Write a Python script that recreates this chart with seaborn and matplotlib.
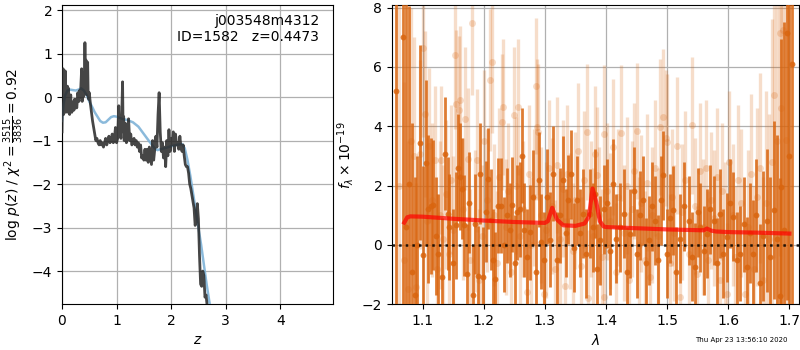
import numpy as np
import pandas as pd
import matplotlib
matplotlib.use("Agg")
import matplotlib.pyplot as plt
import seaborn as sns

# ---------------- left panel: log p(z) ----------------
z_chi = [0.00, 0.01, 0.02, 0.03, 0.04, 0.05, 0.06, 0.07, 0.08, 0.09,
         0.10, 0.11, 0.12, 0.13, 0.14, 0.15, 0.16, 0.17, 0.18, 0.19,
         0.20, 0.21, 0.22, 0.23, 0.24, 0.25, 0.26, 0.27, 0.28, 0.29,
         0.30, 0.31, 0.32, 0.33, 0.34, 0.35, 0.36, 0.37, 0.38, 0.39,
         0.40, 0.41, 0.42, 0.43, 0.44, 0.45, 0.46, 0.47, 0.48, 0.49,
         0.50, 0.52, 0.54, 0.56, 0.58, 0.60, 0.62, 0.64, 0.66, 0.68,
         0.70, 0.72, 0.74, 0.76, 0.78, 0.80, 0.82, 0.84, 0.86, 0.88,
         0.90, 0.92, 0.94, 0.96, 0.98, 1.00, 1.02, 1.04, 1.05, 1.06,
         1.08, 1.10, 1.11, 1.12, 1.13, 1.14, 1.16, 1.18, 1.20, 1.22,
         1.24, 1.26, 1.28, 1.30, 1.32, 1.34, 1.36, 1.38, 1.40, 1.42,
         1.44, 1.46, 1.48, 1.50, 1.52, 1.54, 1.56, 1.58, 1.60, 1.62,
         1.64, 1.66, 1.68, 1.70, 1.72, 1.74, 1.76, 1.78, 1.80, 1.82,
         1.84, 1.86, 1.88, 1.90, 1.92, 1.94, 1.96, 1.98, 2.00, 2.02,
         2.04, 2.06, 2.08, 2.10, 2.12, 2.14, 2.16, 2.18, 2.20, 2.22,
         2.24, 2.26, 2.28, 2.30, 2.32, 2.34, 2.36, 2.38, 2.40, 2.42,
         2.44, 2.46, 2.48, 2.50, 2.52, 2.54, 2.56, 2.58, 2.60, 2.62,
         2.64, 2.66, 2.70]
logp_chi = [-0.80, 0.20, 0.65, -0.40, 0.25, -0.30, 0.60, -0.35, -0.30, -0.20,
            0.25, -0.35, 0.20, -0.25, -0.40, -0.20, 0.05, -0.30, -0.35, -0.20,
            -0.30, -0.10, -0.30, -0.05, -0.20, -0.15, -0.05, -0.25, -0.10, 0.10,
            0.00, -0.10, 0.15, 0.00, 0.10, 0.40, 0.65, -0.10, 0.55, 0.00,
            0.30, 0.05, 1.25, 0.20, 0.85, 0.10, 0.05, 0.80, 0.00, -0.05,
            0.10, -0.15, -0.35, -0.55, -0.70, -0.85, -1.00, -0.95, -1.05, -1.10,
            -1.00, -1.10, -1.05, -1.15, -1.05, -0.95, -1.10, -1.00, -0.90, -1.05,
            -1.00, -0.85, -1.05, -0.95, -0.70, -1.05, -0.95, -0.20, -0.90, -0.60,
            -0.95, -0.15, 0.35, -0.80, -0.45, -1.00, -0.60, -1.05, -0.95, -0.50,
            -1.00, -0.85, -1.10, -1.05, -0.95, -1.10, -1.00, -1.15, -1.05, -1.25,
            -1.10, -1.40, -1.35, -1.45, -1.20, -1.45, -1.20, -1.50, -1.15, -1.35,
            -1.55, -1.00, -1.45, -1.20, -0.90, -1.15, -0.40, 0.10, -0.80, -1.25,
            -1.05, -1.40, -1.15, -1.60, -1.00, -1.35, -0.75, -1.25, -0.95, -1.10,
            -0.80, -1.25, -0.85, -1.10, -1.05, -1.20, -0.90, -1.15, -1.25, -1.10,
            -1.35, -1.55, -1.60, -1.60, -1.75, -2.00, -2.10, -2.25, -2.40, -2.55,
            -2.95, -2.85, -2.45, -2.80, -3.65, -4.30, -4.35, -4.00, -4.10, -4.60,
            -4.55, -4.80, -5.20]

z_pz = [0.00, 0.03, 0.06, 0.10, 0.15, 0.20, 0.25, 0.30, 0.35, 0.40,
        0.45, 0.50, 0.55, 0.60, 0.65, 0.70, 0.75, 0.80, 0.85, 0.90,
        0.95, 1.00, 1.10, 1.20, 1.30, 1.40, 1.50, 1.60, 1.70, 1.75,
        1.80, 1.90, 2.00, 2.10, 2.20, 2.25, 2.30, 2.35, 2.40, 2.45,
        2.50, 2.55, 2.60, 2.65, 2.70, 2.75]
logp_pz = [-0.55, -0.15, 0.05, 0.15, 0.17, 0.16, 0.15, 0.17, 0.20, 0.15,
           0.05, -0.10, -0.22, -0.35, -0.45, -0.55, -0.59, -0.58, -0.52, -0.46,
           -0.44, -0.45, -0.50, -0.53, -0.58, -0.68, -0.85, -1.02, -1.18, -1.22,
           -1.20, -1.17, -1.13, -1.10, -1.08, -1.18, -1.45, -1.80, -2.20, -2.60,
           -3.00, -3.40, -3.85, -4.30, -4.70, -5.05]

# ---------------- right panel: spectrum ----------------
wave_a = [1.056, 1.068, 1.073, 1.078, 1.083, 1.087, 1.091, 1.096, 1.101, 1.105,
          1.109, 1.113, 1.117, 1.122, 1.126, 1.131, 1.137, 1.141, 1.144, 1.149,
          1.154, 1.158, 1.161, 1.165, 1.168, 1.172, 1.176, 1.182, 1.186, 1.190,
          1.194, 1.199, 1.203, 1.207, 1.212, 1.216, 1.219, 1.224, 1.229, 1.234,
          1.238, 1.243, 1.247, 1.251, 1.255, 1.259, 1.262, 1.266, 1.271, 1.276,
          1.280, 1.285, 1.290, 1.294, 1.298, 1.303, 1.309, 1.314, 1.320, 1.325,
          1.330, 1.334, 1.338, 1.343, 1.347, 1.352, 1.357, 1.363, 1.368, 1.374,
          1.378, 1.382, 1.386, 1.390, 1.396, 1.401, 1.406, 1.412, 1.417, 1.423,
          1.429, 1.434, 1.440, 1.445, 1.450, 1.455, 1.461, 1.466, 1.471, 1.476,
          1.480, 1.485, 1.490, 1.494, 1.500, 1.505, 1.510, 1.515, 1.521, 1.527,
          1.535, 1.540, 1.546, 1.550, 1.554, 1.560, 1.565, 1.570, 1.576, 1.581,
          1.587, 1.592, 1.598, 1.603, 1.608, 1.614, 1.619, 1.625, 1.630, 1.636,
          1.641, 1.646, 1.652, 1.657, 1.663, 1.668, 1.674, 1.679, 1.684, 1.687,
          1.691, 1.696, 1.700, 1.704]
flux_a = [5.20, 7.00, 0.60, 2.05, -0.90, -1.70, 0.00, 3.45, -0.35, 2.75,
          1.20, 1.30, 1.35, 0.30, -0.30, -1.10, 3.07, 1.05, 0.60, -0.60,
          0.66, 2.60, 2.30, 1.90, 0.66, -1.00, 1.42, -1.70, 0.70, -1.05,
          2.40, -1.10, 1.12, 2.23, 0.85, -0.50, -1.15, 1.32, 1.32, 0.00,
          1.00, 0.50, 1.35, -0.60, 1.10, 1.20, 3.00, 0.50, -0.40, 0.43,
          1.60, -0.90, 2.20, 0.10, -0.50, 1.63, 0.17, 2.40, -0.50, 1.00,
          2.18, 0.40, 1.52, 2.38, -0.10, 1.50, 0.40, 1.05, -0.30, 1.05,
          0.60, 1.72, -0.80, 0.15, 1.20, 1.40, -0.20, 2.06, 0.20, 0.60,
          1.05, -0.90, 0.37, 1.80, -0.30, 1.00, 1.50, -0.60, 0.15, 1.30,
          0.82, -0.50, 1.50, 2.35, -0.30, 0.90, 1.16, -0.90, 0.20, 1.30,
          0.82, -0.40, -0.75, 1.10, 0.60, -0.20, 0.37, 1.20, 0.82, -0.60,
          1.05, -0.30, 0.26, 1.40, 0.94, -0.50, -0.30, 0.70, -0.75, 0.40,
          -0.30, 1.00, -1.30, 0.30, 0.82, -0.40, 1.16, 0.20, -1.74, 1.95,
          0.50, 7.15, 3.00, 6.10]
err_a = [10.0, 9.0, 8.0, 6.0, 5.0, 4.0, 3.0, 3.3, 3.0, 2.8,
         2.5, 2.3, 2.2, 2.0, 2.0, 2.0, 1.9, 1.9, 1.8, 1.8,
         1.8, 1.8, 1.8, 1.7, 1.7, 1.7, 1.7, 1.7, 1.7, 1.7,
         1.7, 1.7, 1.7, 1.7, 1.7, 1.7, 1.6, 1.6, 1.6, 1.6,
         1.6, 1.6, 1.6, 1.6, 1.6, 1.6, 1.6, 1.6, 1.6, 1.6,
         1.6, 1.6, 1.6, 1.6, 1.6, 1.6, 1.6, 1.6, 1.6, 1.6,
         1.5, 1.5, 1.5, 1.5, 1.5, 1.5, 1.5, 1.5, 1.5, 1.5,
         1.5, 1.5, 1.5, 1.5, 1.5, 1.5, 1.5, 1.5, 1.5, 1.5,
         1.5, 1.5, 1.5, 1.5, 1.5, 1.5, 1.5, 1.5, 1.5, 1.5,
         1.5, 1.5, 1.5, 1.5, 1.5, 1.5, 1.5, 1.5, 1.5, 1.5,
         1.5, 1.5, 1.5, 1.5, 1.5, 1.5, 1.5, 1.5, 1.5, 1.5,
         1.5, 1.5, 1.5, 1.5, 1.5, 1.6, 1.6, 1.6, 1.7, 1.7,
         1.8, 1.9, 2.0, 2.2, 2.4, 2.7, 3.0, 3.5, 4.0, 5.0,
         7.0, 9.0, 10.0, 10.0]

wave_b = [1.062, 1.070, 1.076, 1.081, 1.086, 1.090, 1.095, 1.100, 1.104, 1.108,
          1.110, 1.115, 1.120, 1.124, 1.128, 1.130, 1.134, 1.139, 1.143, 1.146,
          1.150, 1.153, 1.155, 1.159, 1.162, 1.166, 1.170, 1.174, 1.178, 1.181,
          1.185, 1.189, 1.193, 1.197, 1.200, 1.205, 1.210, 1.213, 1.217, 1.221,
          1.225, 1.230, 1.232, 1.236, 1.240, 1.245, 1.249, 1.253, 1.256, 1.260,
          1.265, 1.270, 1.274, 1.278, 1.282, 1.285, 1.287, 1.289, 1.293, 1.298,
          1.302, 1.306, 1.311, 1.316, 1.320, 1.325, 1.329, 1.333, 1.337, 1.341,
          1.346, 1.350, 1.355, 1.359, 1.364, 1.369, 1.370, 1.375, 1.379, 1.382,
          1.385, 1.389, 1.393, 1.396, 1.397, 1.401, 1.406, 1.412, 1.416, 1.420,
          1.425, 1.430, 1.434, 1.438, 1.442, 1.446, 1.450, 1.454, 1.458, 1.463,
          1.467, 1.472, 1.476, 1.480, 1.485, 1.489, 1.494, 1.498, 1.500, 1.504,
          1.508, 1.512, 1.516, 1.521, 1.525, 1.530, 1.535, 1.540, 1.545, 1.549,
          1.554, 1.559, 1.563, 1.567, 1.572, 1.577, 1.581, 1.586, 1.590, 1.594,
          1.598, 1.602, 1.607, 1.611, 1.616, 1.621, 1.627, 1.632, 1.637, 1.642,
          1.647, 1.652, 1.657, 1.662, 1.667, 1.671, 1.675, 1.680, 1.684, 1.687,
          1.689, 1.695]
flux_b = [2.00, -0.50, -1.50, 3.50, 3.00, -1.43, 3.05, 6.65, 4.40, 0.80,
          3.35, 1.50, 2.85, -0.80, 1.00, 2.85, 0.20, 1.70, -0.30, 2.20,
          0.50, 6.40, 4.76, 4.54, 4.87, 1.20, 4.26, 2.90, -0.50, 7.47,
          0.80, 2.85, -1.20, 0.30, 3.50, 1.50, 5.55, 6.17, 1.00, -0.60,
          2.30, 4.14, 4.65, 0.60, 1.80, -0.90, 4.37, 2.00, 4.65, 0.30,
          1.20, -1.60, 2.40, 0.00, 1.60, 5.35, 3.97, 3.80, 1.00, -1.65,
          0.50, 2.60, 1.30, -0.80, 2.70, 0.20, 1.90, -1.40, 2.40, 0.80,
          -0.20, 1.50, 3.15, -0.70, 2.20, 3.80, -1.80, 1.20, 0.30, 3.07,
          2.34, 1.00, -0.40, -1.77, 3.75, 1.80, 0.80, 3.30, -0.90, 1.60,
          3.77, 0.40, 2.00, -1.20, 1.20, 2.50, 3.83, 0.00, 1.40, -0.50,
          2.10, -1.10, 1.00, 2.60, 0.30, 3.97, 4.30, 3.60, 3.47, -0.60,
          1.60, 0.40, 3.35, -1.77, 1.10, 2.20, -0.30, 4.03, 1.30, -1.00,
          2.50, 0.60, 2.60, -0.50, 1.50, 0.90, 2.30, -1.20, 1.80, 0.40,
          -1.65, 2.80, 1.00, -0.40, 2.20, 1.40, -1.65, 0.60, 2.40, -0.80,
          1.60, 2.60, -1.20, 1.40, 0.20, 2.80, 5.07, 3.50, 7.13, 4.63,
          7.26, 3.52]
err_b = [8.0, 6.0, 5.0, 4.5, 4.0, 3.5, 3.2, 3.0, 2.8, 2.8,
         2.6, 2.6, 2.5, 2.5, 2.5, 2.5, 2.5, 2.5, 2.5, 2.5,
         2.5, 2.5, 2.5, 2.5, 2.5, 2.4, 2.4, 2.4, 2.4, 2.4,
         2.4, 2.4, 2.4, 2.4, 2.4, 2.4, 2.4, 2.4, 2.4, 2.4,
         2.3, 2.3, 2.3, 2.3, 2.3, 2.3, 2.3, 2.3, 2.3, 2.3,
         2.3, 2.3, 2.3, 2.3, 2.3, 2.3, 2.3, 2.3, 2.3, 2.3,
         2.3, 2.3, 2.3, 2.3, 2.3, 2.3, 2.3, 2.3, 2.3, 2.3,
         2.3, 2.3, 2.3, 2.3, 2.3, 2.3, 2.3, 2.3, 2.3, 2.3,
         2.3, 2.3, 2.3, 2.3, 2.3, 2.3, 2.3, 2.3, 2.3, 2.3,
         2.3, 2.3, 2.3, 2.3, 2.3, 2.3, 2.3, 2.3, 2.3, 2.3,
         2.3, 2.3, 2.3, 2.3, 2.3, 2.3, 2.3, 2.3, 2.3, 2.3,
         2.3, 2.3, 2.3, 2.3, 2.3, 2.3, 2.3, 2.3, 2.3, 2.3,
         2.3, 2.3, 2.3, 2.3, 2.3, 2.3, 2.3, 2.3, 2.3, 2.4,
         2.4, 2.4, 2.4, 2.4, 2.5, 2.5, 2.5, 2.6, 2.7, 2.8,
         3.0, 3.2, 3.5, 3.8, 4.2, 4.8, 5.5, 6.5, 7.5, 8.0,
         9.0, 9.0]

wave_model = [1.070, 1.075, 1.080, 1.100, 1.150, 1.200, 1.250, 1.300, 1.305, 1.312,
              1.320, 1.330, 1.350, 1.365, 1.372, 1.378, 1.384, 1.390, 1.396, 1.400,
              1.450, 1.500, 1.560, 1.565, 1.572, 1.580, 1.600, 1.650, 1.700]
flux_model = [0.75, 0.93, 0.96, 0.95, 0.88, 0.82, 0.77, 0.74, 0.80, 1.25,
              0.85, 0.66, 0.64, 0.72, 0.95, 1.90, 1.45, 0.80, 0.62, 0.60,
              0.56, 0.52, 0.49, 0.55, 0.48, 0.45, 0.43, 0.41, 0.38]

title_obj = "j003548m4312"
title_id = "ID=1582   z=0.4473"
stamp = "Thu Apr 23 13:56:10 2020"

# ---------------- figure ----------------
fig = plt.figure(figsize=(8, 3.5), dpi=100)
ax1 = fig.add_axes([0.0775, 0.131, 0.339, 0.854])
ax2 = fig.add_axes([0.490, 0.131, 0.509, 0.854])

df_chi = pd.DataFrame({"z": z_chi, "logp": logp_chi})
df_pz = pd.DataFrame({"z": z_pz, "logp": logp_pz})
sns.lineplot(data=df_pz, x="z", y="logp", ax=ax1, color="#7fb3d8", lw=1.8,
             alpha=0.9, zorder=3)
sns.lineplot(data=df_chi, x="z", y="logp", ax=ax1, color="0.15", lw=2.0,
             alpha=0.85, zorder=4)
ax1.set_xlim(0, 4.97)
ax1.set_ylim(-4.76, 2.11)
ax1.set_xticks([0, 1, 2, 3, 4])
ax1.set_yticks([-4, -3, -2, -1, 0, 1, 2])
ax1.grid(True, color="#b0b0b0", lw=0.9)
ax1.set_xlabel("$z$", fontsize=10)
ax1.set_ylabel(r"log $p(z)$ / $\chi^2=\frac{3515}{3836}=0.92$", fontsize=10)
ax1.text(0.948, 0.972, title_obj + "\n" + title_id, transform=ax1.transAxes,
         ha="right", va="top", fontsize=10)

orange = "#d9650f"
ax2.errorbar(wave_b, flux_b, yerr=err_b, fmt="o", color=orange, alpha=0.22,
             ms=5, elinewidth=2.4, capsize=0, mec="none", zorder=2)
ax2.errorbar(wave_a, flux_a, yerr=err_a, fmt="o", color=orange, alpha=0.85,
             ms=4.2, elinewidth=2.0, capsize=0, mec="none", zorder=3)
df_model = pd.DataFrame({"wave": wave_model, "flux": flux_model})
sns.lineplot(data=df_model, x="wave", y="flux", ax=ax2, color="red", lw=3,
             alpha=0.7, zorder=5)
ax2.axhline(0, color="k", ls=":", lw=1.8, alpha=0.85, zorder=6)
ax2.set_xlim(1.05, 1.716)
ax2.set_ylim(-2.0, 8.08)
ax2.set_xticks([1.1, 1.2, 1.3, 1.4, 1.5, 1.6, 1.7])
ax2.set_yticks([-2, 0, 2, 4, 6, 8])
ax2.grid(True, color="#b0b0b0", lw=0.9)
ax2.set_xlabel(r"$\lambda$", fontsize=10)
ax2.set_ylabel(r"$f_\lambda\times10^{-19}$", fontsize=10)

fig.text(0.984, 0.029, stamp, ha="right", va="center", fontsize=5)

fig.savefig("out.png", dpi=100)
